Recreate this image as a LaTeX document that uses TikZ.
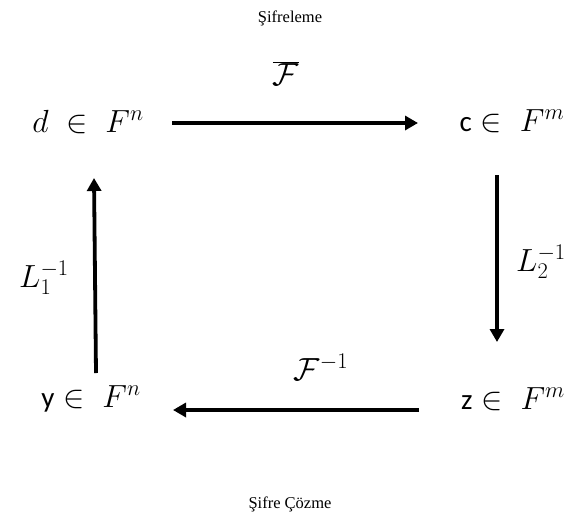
\RequirePackage{fix-cm}
\documentclass[tikz,border=0pt]{standalone}
\usepackage{fontspec}
\setmainfont{Liberation Serif}
\newfontfamily\calib{Carlito}
\usetikzlibrary{arrows.meta}
\tikzset{
  every picture/.style={x=1pt,y=-1pt},
  mathnode/.style={inner sep=0pt,font=\fontsize{32}{36}\selectfont},
  lbl/.style={inner sep=0pt,font=\fontsize{32}{36}\selectfont},
  captext/.style={inner sep=0pt,font=\fontsize{16.5}{19}\selectfont},
  arr/.style={line width=3.8pt,-{Triangle[length=13pt,width=14pt]}},
}
\newcommand{\sv}[1]{\mbox{\calib\fontsize{29}{32}\selectfont #1}}
\begin{document}
\begin{tikzpicture}
\useasboundingbox (0,0) rectangle (581,517);
\node[captext] (t1) at (290,18) {Şifreleme};
\node[captext] (t2) at (290,504) {Şifre Çözme};
\node[mathnode] (d) at (88,122) {$d\;\in\;F^n$};
\node[mathnode] (c) at (512,121) {$\sv{c}\in\;F^m$};
\node[mathnode] (y) at (91,399) {$\sv{y}\in\;F^n$};
\node[mathnode] (z) at (513,399) {$\sv{z}\in\;F^m$};
\coordinate (ra) at (497,175);
\coordinate (rb) at (497,342);
\coordinate (la) at (96,373);
\coordinate (lb) at (94,178);
\coordinate (da) at (172,123);
\coordinate (ce) at (418,123);
\coordinate (zw) at (419,410);
\coordinate (yw) at (173,410);
\draw[arr] (da) -- (ce);
\draw[arr] (zw) -- (yw);
\draw[arr] (ra) -- (rb);
\draw[arr] (la) -- (lb);
\node[lbl] (fb) at (286,74) {$\overline{\mathcal{F}}$};
\node[lbl] (fi) at (321,367) {$\mathcal{F}^{-1}$};
\node[lbl] (l2) at (541,262) {$L_2^{-1}$};
\node[lbl] (l1) at (44,278) {$L_1^{-1}$};
\end{tikzpicture}
\end{document}
